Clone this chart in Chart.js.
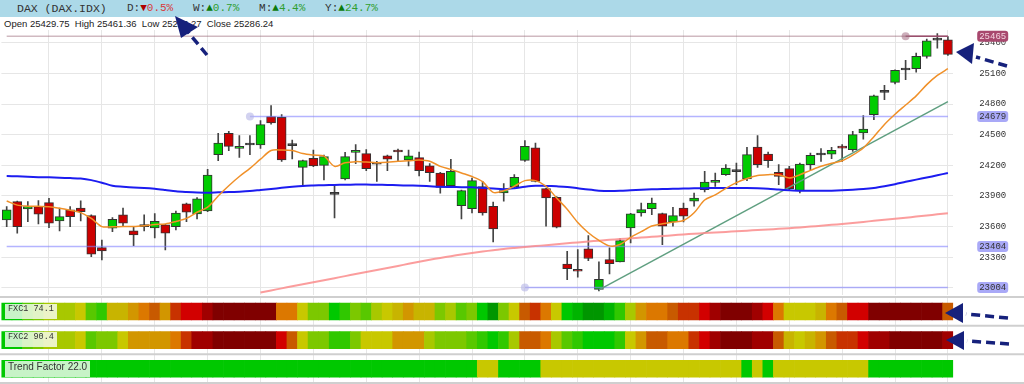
<!DOCTYPE html>
<html>
<head>
<meta charset="utf-8">
<script src="https://cdn.jsdelivr.net/npm/chart.js@4.4.0/dist/chart.umd.min.js"></script>
<style>
  html, body { margin: 0; padding: 0; background: #fff; }
  #wrap { position: relative; width: 1024px; height: 384px; overflow: hidden; font-family: "Liberation Sans", Arial, sans-serif; }
  #band { position: absolute; left: 0; top: 0; width: 1024px; height: 17px; background: #acd9e8; }
  .hd { position: absolute; top: 1px; font: 11px "Liberation Mono", "DejaVu Sans Mono", monospace; color: #333; line-height: 15px; white-space: pre; }
  .dn { color: #d83a3a; }
  .up { color: #2f9e2f; }
  .tdn { color: #b00000; }
  .tup { color: #0b7a0b; }
  #ohlc { position: absolute; left: 4px; top: 17px; font-size: 9.5px; color: #222; line-height: 14px; white-space: pre; }
  canvas { position: absolute; left: 0; }
  #main { top: 30px; }
  #strips { top: 296px; }
  .tag { position: absolute; left: 5px; height: 15px; line-height: 15px; padding: 0 3px; background: rgba(255,255,255,0.78); color: #333; font: 8.5px "Liberation Mono", monospace; }
  #arrows { position: absolute; left: 0; top: 0; }
</style>
</head>
<body>
<div id="wrap">
  <div id="band"></div>
  <span class="hd" style="left:17px;font-size:11.5px">DAX (DAX.IDX)</span>
  <span class="hd" style="left:127px">D:<span class="tdn">▼</span><span class="dn">0.5%</span>   W:<span class="tup">▲</span><span class="up">0.7%</span>   M:<span class="tup">▲</span><span class="up">4.4%</span>   Y:<span class="tup">▲</span><span class="up">24.7%</span></span>
  <div id="ohlc">Open 25429.75  High 25461.36  Low 25276.27  Close 25286.24</div>

  <canvas id="main" width="1024" height="265"></canvas>
  <canvas id="strips" width="1024" height="88"></canvas>

  <div class="tag" style="top:304px">FXC1 74.1</div>
  <div class="tag" style="top:332px">FXC2 90.4</div>
  <div class="tag" style="top:361px;height:16px;line-height:16px;font:10px 'Liberation Sans', Arial, sans-serif">Trend Factor 22.0</div>

  <svg id="arrows" width="1024" height="384">
    <g fill="#16217c" stroke="#16217c" stroke-width="3.5" stroke-dasharray="9 5">
      <line x1="207" y1="55" x2="188" y2="32" />
      <line x1="1007" y1="66" x2="976" y2="57" />
      <line x1="1008" y1="318" x2="966" y2="314" />
      <line x1="1009" y1="344" x2="967" y2="341" />
    </g>
    <g fill="#16217c">
      <polygon points="175,16 181,38 198,27" />
      <polygon points="956,52 974,43 972,64" />
      <polygon points="945,313 963,303 963,323" />
      <polygon points="946,340 964,331 964,350" />
    </g>
  </svg>
</div>

<script>
// daily candles, oldest first
var opens = [23665,23845,23773,23796,23835,23655,23763,23780,23708,23394,
  23584,23714,23558,23606,23587,23616,23600,23822,23724,23753,
  24304,24513,24366,24399,24399,24676,24669,24399,24180,24269,
  24200,23922,24066,24327,24314,24216,24292,24347,24252,24275,
  24194,24125,24000,23805,23776,23991,23799,23929,23991,24249,
  24370,23972,23887,23234,23182,23381,22985,23277,23254,23587,
  23733,23776,23727,23645,23782,23848,23961,24033,24108,24138,
  24066,24379,24310,24131,24167,23952,24206,24301,24310,24386,
  24353,24516,24695,24914,25012,25133,25146,25266,25426,25429.75];
var highs = [23796,23850,23845,23855,23877,23780,23796,23851,23714,23469,
  23688,23780,23600,23714,23727,23623,23753,23829,23884,24161,
  24513,24533,24490,24490,24637,24784,24696,24448,24252,24350,
  24301,23997,24327,24402,24353,24239,24301,24360,24350,24330,
  24216,24131,24259,23958,24076,24043,23841,24020,24109,24441,
  24418,23978,23893,23358,23375,23512,23254,23391,23482,23730,
  23831,23880,23733,23789,23831,23929,24141,24125,24206,24222,
  24376,24490,24330,24206,24190,24222,24320,24363,24376,24402,
  24532,24686,24888,24982,25136,25227,25299,25436,25490,25461.36];
var lows = [23600,23535,23649,23626,23590,23558,23600,23655,23306,23274,
  23551,23600,23414,23558,23489,23372,23567,23649,23675,23747,
  24246,24343,24278,24304,24366,24604,24239,24262,23997,24187,
  24056,23684,24056,24216,24148,24043,24148,24246,24194,24096,
  24043,23926,23990,23675,23733,23711,23450,23848,23978,24239,
  24037,23603,23587,23081,23104,23267,22970,23136,23254,23440,
  23701,23717,23424,23603,23645,23799,23939,23994,24102,24010,
  24050,24180,24180,24010,23961,23929,24157,24239,24265,24239,
  24337,24457,24646,24842,24996,25038,25113,25250,25348,25276.27];
var closes = [23763,23600,23796,23721,23633,23698,23698,23747,23329,23361,
  23672,23633,23518,23600,23652,23535,23731,23741,23871,24105,
  24418,24386,24383,24405,24598,24614,24252,24392,24246,24194,
  24285,23916,24285,24343,24167,24210,24259,24330,24292,24148,
  24128,23984,24141,23952,24050,23733,23577,23952,24082,24386,
  24043,23880,23593,23189,23163,23287,23084,23238,23463,23724,
  23766,23831,23603,23707,23701,23880,24036,24053,24173,24144,
  24304,24206,24245,24092,23971,24213,24297,24307,24346,24369,
  24500,24555,24881,24920,25129,25139,25266,25420,25433,25286.24];

// moving averages
var maFast = [23850,23810,23800,23798,23795,23780,23760,23737,23680,23600,
  23598,23600,23600,23608,23620,23626,23650,23680,23740,23790,
  23900,24000,24090,24170,24260,24345,24350,24345,24315,24300,
  24290,24190,24225,24236,24232,24226,24230,24240,24245,24252,
  24240,24190,24160,24125,24090,24040,23935,23950,23995,24050,
  24050,23995,23880,23770,23640,23540,23465,23411,23425,23495,
  23550,23605,23628,23645,23660,23735,23860,23910,23975,24030,
  24070,24100,24108,24108,24076,24108,24150,24190,24220,24245,
  24300,24370,24480,24600,24700,24790,24880,24990,25080,25146];
var maMid = [24095,24092,24088,24084,24082,24078,24075,24070,24055,24030,
  24000,23990,23982,23978,23970,23958,23945,23938,23933,23932,
  23935,23938,23942,23948,23958,23968,23980,23990,23998,24002,
  24005,24008,24010,24011,24011,24010,24008,24005,24002,24000,
  23995,23990,23988,23986,23984,23978,23972,23966,23975,23990,
  24000,23998,23994,23988,23975,23962,23952,23948,23950,23955,
  23960,23965,23968,23970,23972,23975,23976,23978,23978,23978,
  23978,23975,23970,23962,23955,23950,23950,23950,23952,23955,
  23960,23967,23978,23995,24015,24038,24060,24080,24102,24125];
var maSlow = [null,null,null,null,null,null,null,null,null,null,
  null,null,null,null,null,null,null,null,null,null,
  null,null,null,null,22955,22975,22995,23015,23035,23055,
  23075,23095,23115,23135,23155,23175,23195,23215,23235,23255,
  23275,23293,23310,23327,23342,23356,23368,23381,23391,23400,
  23409,23418,23427,23436,23445,23454,23462,23470,23478,23485,
  23492,23500,23507,23515,23523,23530,23536,23542,23548,23554,
  23560,23566,23572,23578,23584,23592,23600,23608,23617,23626,
  23636,23646,23656,23666,23676,23687,23698,23709,23720,23731];

// support / resistance levels and the rising trend line
var levelValues = [25465, 24679, 23404, 23004];
var levelStart = [85, 23, 0, 49];
var trendIdx = [56, 89];
var trendVal = [22980, 24823];

var yTicks = [23000, 23300, 23600, 23900, 24200, 24500, 24800, 25100, 25400];

// indicator strips (0..100)
var fxc1 = [15,15,30,38,45,45,45,53,31,22,
  58,58,64,70,75,64,80,85,85,90,
  96,96,96,96,96,96,70,70,53,38,
  38,15,24,38,31,45,53,58,64,58,
  58,38,45,31,38,15,4,38,53,75,
  80,70,53,15,10,4,3,10,24,45,
  64,70,70,75,80,80,85,90,96,96,
  96,90,85,70,53,53,53,58,68,75,
  85,85,96,96,96,96,96,96,96,74.1];
var fxc2 = [15,15,30,38,45,45,45,53,31,38,
  38,53,64,64,64,64,70,80,90,90,
  96,96,96,96,96,96,85,75,53,38,
  38,22,22,38,53,53,53,64,64,64,
  45,38,38,38,31,24,15,24,45,75,
  75,70,45,31,24,15,18,14,24,53,
  64,75,75,70,70,80,85,90,96,96,
  96,90,90,75,58,53,58,66,75,80,
  80,85,90,90,96,96,96,96,96,90.4];
var trendFactor = [20,20,20,20,20,20,20,20,20,20,
  20,20,20,20,20,20,20,20,20,20,
  20,20,20,20,20,20,20,20,20,20,
  20,20,20,20,20,20,20,20,20,20,
  20,20,20,20,20,40,40,20,20,20,
  20,40,40,40,40,40,40,40,40,40,
  40,40,40,40,40,40,40,40,40,40,
  20,40,20,40,40,40,40,40,40,40,
  40,40,22,22,22,22,22,22,22,22.0];

var labels = opens.map(function(v, i) { return i + 1; });

var heatStops = [
  [5, '#009600'], [12, '#00b400'], [20, '#00c800'], [28, '#30c800'],
  [35, '#58c800'], [42, '#7cc800'], [50, '#a8c800'], [57, '#c8c800'],
  [62, '#c8b400'], [67, '#d29600'], [72, '#dc7800'], [77, '#c85a00'],
  [82, '#c83200'], [87, '#d20000'], [93, '#a00000'], [101, '#800000']
];
function heatColor(v) {
  for (var k = 0; k < heatStops.length; k++) {
    if (v < heatStops[k][0]) return heatStops[k][1];
  }
  return '#800000';
}
function trendColor(v) { return v < 30 ? '#00c800' : '#c8c800'; }

function bodyColor(i) {
  if (Math.abs(closes[i] - opens[i]) < 10) return '#333';
  return closes[i] > opens[i] ? '#00cc00' : '#cc0000';
}

var vGrid = function(ctx) {
  return ctx.index % 5 === 4 ? '#e6e6e6' : 'rgba(0,0,0,0)';
};

function levelData(k, from) {
  return labels.map(function(v, i) { return i >= from ? levelValues[k] : null; });
}
function levelDot(k) {
  return function(ctx) { return ctx.dataIndex === levelStart[k] && levelStart[k] > 0 ? 4 : 0; };
}

var datasets = [];
datasets.push({
  type: 'line', data: maFast, borderColor: '#f09028', borderWidth: 1.5,
  pointRadius: 0, tension: 0.3, order: 0
});
datasets.push({
  type: 'line', data: maMid, borderColor: '#1c1cf0', borderWidth: 2,
  pointRadius: 0, tension: 0.3, order: 0
});
datasets.push({
  type: 'line', data: maSlow, borderColor: 'rgba(250,140,140,0.85)', borderWidth: 2,
  pointRadius: 0, tension: 0.3, order: 0
});
datasets.push({
  type: 'line',
  data: labels.map(function(v, i) {
    return i === trendIdx[0] ? trendVal[0] : (i === trendIdx[1] ? trendVal[1] : null);
  }),
  spanGaps: true, borderColor: '#5f9f80', borderWidth: 1.5, pointRadius: 0, order: 0
});
// faint top line, then the four levels
datasets.push({
  type: 'line', data: levelData(0, 0), borderColor: 'rgba(150,100,115,0.45)',
  borderWidth: 1.5, pointRadius: 0, order: 1
});
levelValues.forEach(function(v, k) {
  var maroon = k === 0;
  datasets.push({
    type: 'line', data: levelData(k, levelStart[k]),
    borderColor: maroon ? '#9c3f66' : 'rgba(130,130,255,0.6)',
    borderWidth: 1.5,
    pointRadius: levelDot(k),
    pointBackgroundColor: maroon ? 'rgba(170,120,140,0.6)' : 'rgba(180,180,230,0.6)',
    pointBorderWidth: 0,
    order: 1
  });
});
datasets.push({
  type: 'bar', data: labels.map(function(v, i) { return [opens[i], closes[i]]; }),
  backgroundColor: labels.map(function(v, i) { return bodyColor(i); }),
  borderColor: '#333', borderWidth: 1, borderSkipped: false,
  barThickness: 9, minBarLength: 2, grouped: false, order: 2
});
datasets.push({
  type: 'bar', data: labels.map(function(v, i) { return [lows[i], highs[i]]; }),
  backgroundColor: '#444', borderWidth: 0, barThickness: 1, grouped: false, order: 3
});

var tagPlugin = {
  id: 'levelTags',
  afterDraw: function(chart) {
    var ctx = chart.ctx;
    var ys = chart.scales.y;
    var x0 = chart.chartArea.right + 24;
    levelValues.forEach(function(v, k) {
      var py = ys.getPixelForValue(v);
      ctx.save();
      ctx.fillStyle = k === 0 ? '#a8486e' : '#a9a9f7';
      ctx.beginPath();
      ctx.roundRect(x0, py - 5.5, 31, 11, 3);
      ctx.fill();
      ctx.fillStyle = k === 0 ? '#f4d4e0' : '#333';
      ctx.font = '9px "Liberation Mono", monospace';
      ctx.textAlign = 'center';
      ctx.textBaseline = 'middle';
      ctx.fillText(String(v), x0 + 15.5, py + 0.5);
      ctx.restore();
    });
  }
};

new Chart(document.getElementById('main'), {
  type: 'bar',
  data: { labels: labels, datasets: datasets },
  options: {
    responsive: false,
    animation: false,
    layout: { padding: { left: 1.4, right: 0, top: 0, bottom: 0 } },
    plugins: { legend: { display: false }, tooltip: { enabled: false } },
    scales: {
      x: {
        offset: true,
        grid: { offset: false, drawTicks: false, color: vGrid },
        ticks: { display: false, autoSkip: false },
        border: { display: false },
        afterFit: function(s) { s.height = 0; }
      },
      y: {
        position: 'right',
        min: 22930, max: 25525,
        afterBuildTicks: function(s) { s.ticks = yTicks.map(function(v) { return { value: v }; }); },
        afterFit: function(s) { s.width = 70.8; s.paddingTop = 0; s.paddingBottom = 0; },
        grid: { color: '#e6e6e6', drawTicks: false },
        border: { display: false },
        ticks: {
          padding: 26, color: '#333', font: { family: 'Liberation Mono', size: 9 },
          callback: function(v) { return String(v); }
        }
      }
    }
  },
  plugins: [tagPlugin]
});

// three colour strips under the price panel
var rows = [fxc1, fxc2, trendFactor];
var stripSets = rows.map(function(vals, r) {
  return {
    data: vals.map(function() { return [r + 0.21, r + 0.8]; }),
    backgroundColor: vals.map(r === 2 ? trendColor : heatColor),
    borderWidth: 0, barPercentage: 1, categoryPercentage: 1, grouped: false
  };
});

var separators = {
  id: 'separators',
  beforeDatasetsDraw: function(chart) {
    var ctx = chart.ctx;
    var ys = chart.scales.y;
    ctx.save();
    ctx.strokeStyle = '#cfcfcf';
    ctx.lineWidth = 2;
    [0, 1, 2, 3].forEach(function(v) {
      var py = ys.getPixelForValue(v);
      ctx.beginPath();
      ctx.moveTo(0, py);
      ctx.lineTo(chart.width, py);
      ctx.stroke();
    });
    ctx.restore();
  }
};

new Chart(document.getElementById('strips'), {
  type: 'bar',
  data: { labels: labels, datasets: stripSets },
  options: {
    responsive: false,
    animation: false,
    layout: { padding: { left: 1.4, right: 70.8, top: 1, bottom: 1 } },
    plugins: { legend: { display: false }, tooltip: { enabled: false } },
    scales: {
      x: {
        offset: true,
        grid: { offset: false, drawTicks: false, color: vGrid },
        ticks: { display: false, autoSkip: false },
        border: { display: false },
        afterFit: function(s) { s.height = 0; }
      },
      y: {
        display: false, reverse: true, min: 0, max: 3
      }
    }
  },
  plugins: [separators]
});
</script>
</body>
</html>
